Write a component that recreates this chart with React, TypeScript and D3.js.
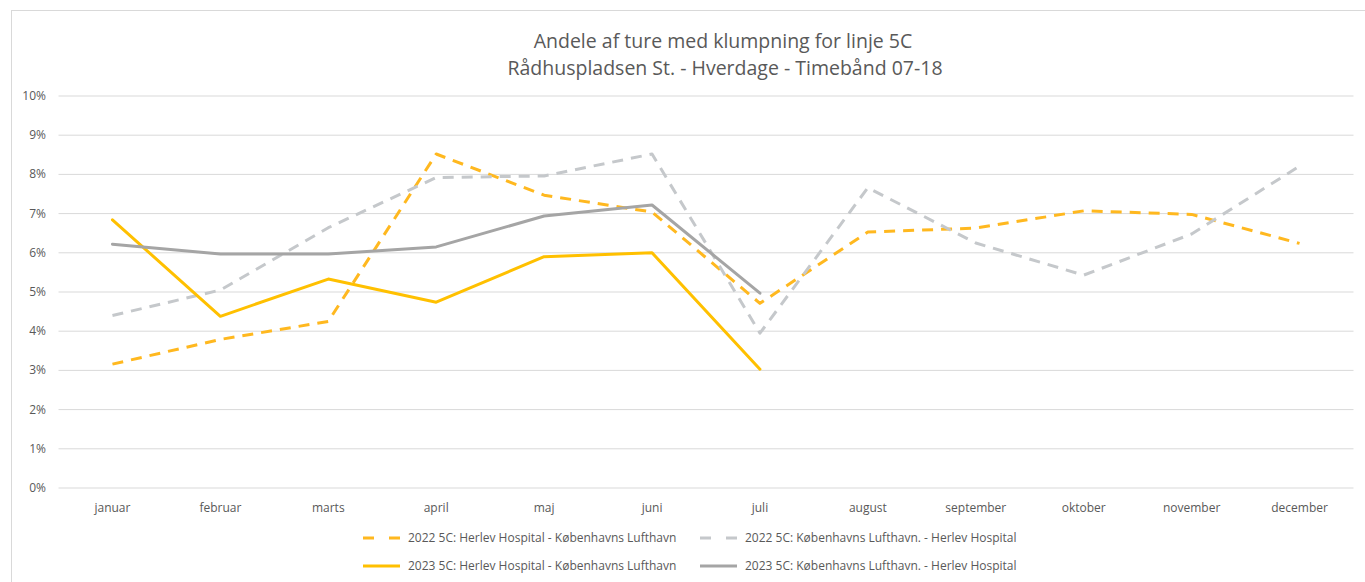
import React from "react";
import * as d3 from "d3";

const months = ["januar", "februar", "marts", "april", "maj", "juni", "juli", "august", "september", "oktober", "november", "december"];
const yTicks = [0, 0.01, 0.02, 0.03, 0.04, 0.05, 0.06, 0.07, 0.08, 0.09, 0.1];

const s2022HL = [0.0316, 0.0379, 0.0425, 0.0852, 0.0747, 0.0704, 0.0471, 0.0653, 0.0663, 0.0707, 0.0698, 0.0624];
const s2022KH = [0.0440, 0.0505, 0.0664, 0.0792, 0.0796, 0.0852, 0.0395, 0.0766, 0.0625, 0.0543, 0.0648, 0.0821];
const s2023HL = [0.0684, 0.0438, 0.0533, 0.0474, 0.0590, 0.0600, 0.0303];
const s2023KH = [0.0622, 0.0597, 0.0597, 0.0615, 0.0694, 0.0722, 0.0497];

const seriesNames = [
  "2022 5C: Herlev Hospital - Københavns Lufthavn",
  "2022 5C: Københavns Lufthavn. - Herlev Hospital",
  "2023 5C: Herlev Hospital - Københavns Lufthavn",
  "2023 5C: Københavns Lufthavn. - Herlev Hospital",
];

const FONT = "'Liberation Sans Narrow', 'Arial Narrow', 'Open Sans', sans-serif";

export default function App() {
  const W = 1365, H = 582;
  const x = d3.scaleBand<string>().domain(months).range([58.5, 1353.5]);
  const y = d3.scaleLinear().domain([0, 0.1]).range([488, 96]);
  const cx = (i: number) => (x(months[i]) as number) + x.bandwidth() / 2;
  const line = d3.line<number>().x((_, i) => cx(i)).y((d) => y(d));
  const fmt = d3.format(".0%");

  const series = [
    { name: seriesNames[0], data: s2022HL, color: "#FFB81F", dash: "11,8" },
    { name: seriesNames[1], data: s2022KH, color: "#C5C8CB", dash: "11,8" },
    { name: seriesNames[2], data: s2023HL, color: "#FFC000", dash: null },
    { name: seriesNames[3], data: s2023KH, color: "#A5A5A5", dash: null },
  ];

  const legendPos = [
    { x: 363, y: 538 },
    { x: 700, y: 538 },
    { x: 363, y: 566 },
    { x: 700, y: 566 },
  ];

  return (
    <svg width={W} height={H} style={{ position: "absolute", left: 0, top: 0, background: "#fff" }} fontFamily={FONT}>
      <rect x={11.5} y={10.5} width={1400} height={600} fill="#fff" stroke="#D9D9D9" />
      <text x={723} y={48} textAnchor="middle" fontSize={19.5} fill="#595959">Andele af ture med klumpning for linje 5C</text>
      <text x={725} y={75} textAnchor="middle" fontSize={19.5} fill="#595959">Rådhuspladsen St. - Hverdage - Timebånd 07-18</text>
      {yTicks.map((t) => (
        <g key={t}>
          <line x1={58.5} x2={1353.5} y1={y(t)} y2={y(t)} stroke="#D9D9D9" strokeWidth={1} />
          <text x={46} y={y(t) + 4} textAnchor="end" fontSize={12} fill="#595959">{fmt(t)}</text>
        </g>
      ))}
      {months.map((m, i) => (
        <text key={m} x={cx(i)} y={512} textAnchor="middle" fontSize={12} fill="#595959">{m}</text>
      ))}
      {series.map((s) => (
        <path key={s.name} d={line(s.data) as string} fill="none" stroke={s.color} strokeWidth={3}
          strokeDasharray={s.dash ?? undefined} strokeLinejoin="round" strokeLinecap={s.dash ? "butt" : "round"} />
      ))}
      {series.map((s, i) => (
        <g key={"lg" + i}>
          <line x1={legendPos[i].x} x2={legendPos[i].x + 37} y1={legendPos[i].y} y2={legendPos[i].y}
            stroke={s.color} strokeWidth={3} strokeDasharray={s.dash ? "11,15" : undefined} />
          <text x={legendPos[i].x + 45} y={legendPos[i].y + 4} fontSize={12} fill="#595959">{s.name}</text>
        </g>
      ))}
    </svg>
  );
}
